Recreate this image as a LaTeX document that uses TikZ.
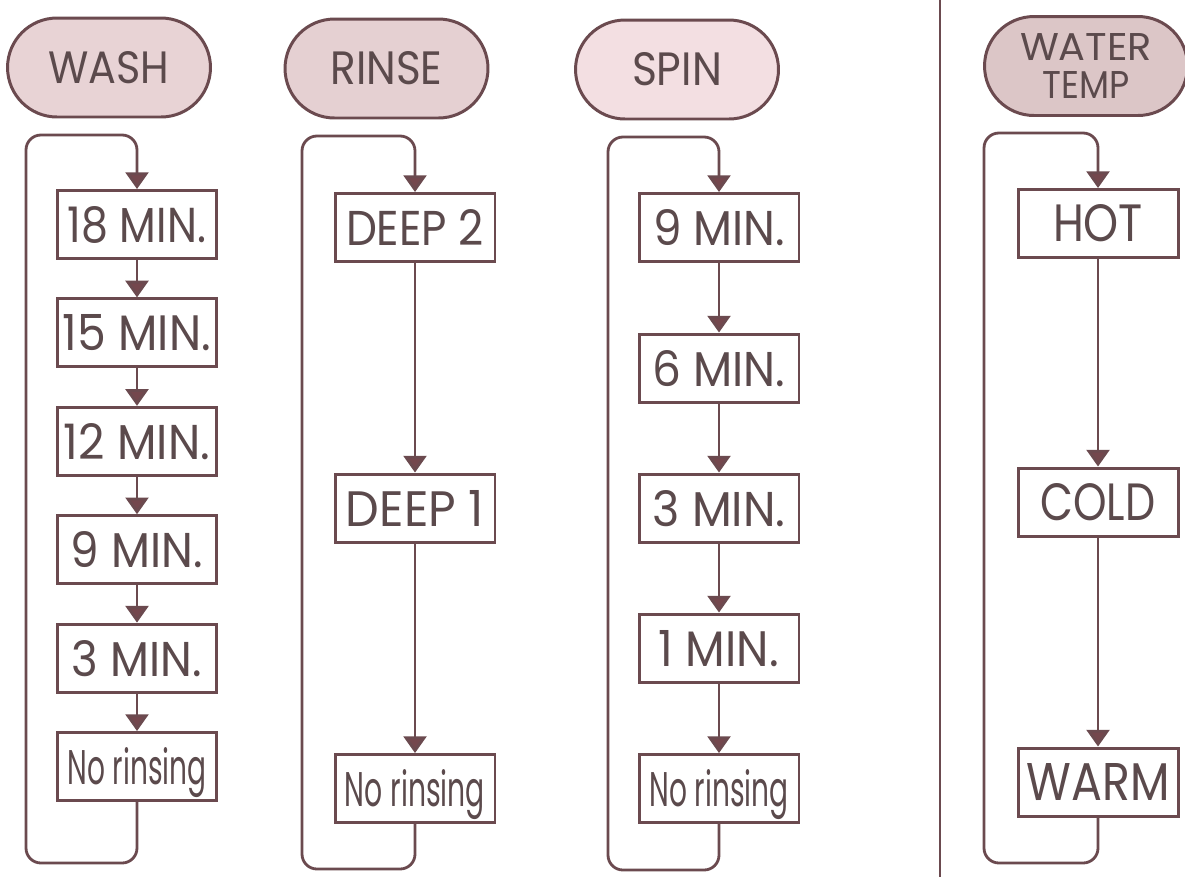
\documentclass[tikz,border=0pt]{standalone}
\usepackage{fontspec}
\setmainfont{Poppins}
\usepackage{graphicx}
\usetikzlibrary{arrows.meta,shapes.misc}
\newdimen\pxu \pxu=0.02cm
\newcommand\fitt[3]{\resizebox{#1\pxu}{#2\pxu}{#3}}
\definecolor{ln}{HTML}{6B4A4F}
\definecolor{tipc}{HTML}{74474D}
\definecolor{tx}{HTML}{5B4A4C}
\definecolor{pwash}{HTML}{E8D3D5}
\definecolor{prinse}{HTML}{E5D0D2}
\definecolor{pspin}{HTML}{F3DFE2}
\definecolor{ptemp}{HTML}{DCC6C7}
\tikzset{
  stepbox/.style={draw=ln, line width=1.7pt, fill=white, rectangle,
    minimum width=3.2cm, minimum height=1.36cm, inner sep=0pt,
    text=tx, text height=36\pxu, text depth=0pt},
  pill/.style={draw=ln, line width=1.7pt, rounded rectangle,
    minimum width=4.06cm, minimum height=1.98cm, inner sep=0pt, text=tx},
  flow/.style={draw=ln, line width=1.6pt,
    -{Triangle[width=13pt,length=9.5pt,fill=tipc]}},
  loopline/.style={flow, rounded corners=8.5pt},
}
\begin{document}
\begin{tikzpicture}[x=0.02cm,y=-0.02cm]
\useasboundingbox (0,0) rectangle (1185,877);
\fill[white] (0,0) rectangle (1185,877);

% divider
\coordinate (divtop) at (940,0);
\coordinate (divbot) at (940,877);
\draw[ln, line width=1.3pt] (divtop) -- (divbot);

% headers
\node[pill, fill=pwash] (hwash) at (109,67.5) {\fitt{121}{32}{WASH}};
\node[pill, fill=prinse] (hrinse) at (386.5,68.5) {\fitt{112}{33}{RINSE}};
\node[pill, fill=pspin] (hspin) at (677,69.5) {\fitt{90}{33}{SPIN}};
\node[pill, fill=ptemp, align=center, font=\fontsize{10}{21.6}\selectfont]
  (htemp) at (1086,66) {\fitt{132}{27}{WATER}\\\fitt{87}{27}{TEMP}};

% WASH column
\node[stepbox] (w1) at (137,224.5) {\fitt{138}{36}{18 MIN.}};
\node[stepbox] (w2) at (137,332.9) {\fitt{148}{36}{15 MIN.}};
\node[stepbox] (w3) at (137,441.3) {\fitt{146}{36}{12 MIN.}};
\node[stepbox] (w4) at (137,549.7) {\fitt{132}{36}{9 MIN.}};
\node[stepbox] (w5) at (137,658.1) {\fitt{130}{36}{3 MIN.}};
\node[stepbox] (w6) at (137,766.5) {\fitt{139}{37}{No rinsing}};
\draw[flow] (w1) -- (w2);
\draw[flow] (w2) -- (w3);
\draw[flow] (w3) -- (w4);
\draw[flow] (w4) -- (w5);
\draw[flow] (w5) -- (w6);
\coordinate (wbl) at (26,863);
\coordinate (wtl) at (26,135);
\draw[loopline] (w6.south) |- (wbl) -- (wtl) -| (w1.north);

% RINSE column
\node[stepbox] (r1) at (415,227.5) {\fitt{138}{36}{DEEP 2}};
\node[stepbox] (r2) at (415,508) {\fitt{138}{36}{DEEP 1}};
\node[stepbox] (r3) at (415,788.5) {\fitt{140}{37}{No rinsing}};
\draw[flow] (r1) -- (r2);
\draw[flow] (r2) -- (r3);
\coordinate (rbl) at (302,869);
\coordinate (rtl) at (302,136);
\draw[loopline] (r3.south) |- (rbl) -- (rtl) -| (r1.north);

% SPIN column
\node[stepbox] (s1) at (719,227.5) {\fitt{132}{36}{9 MIN.}};
\node[stepbox] (s2) at (719,368) {\fitt{133}{36}{6 MIN.}};
\node[stepbox] (s3) at (719,508) {\fitt{133}{36}{3 MIN.}};
\node[stepbox] (s4) at (719,648) {\fitt{120}{36}{1 MIN.}};
\node[stepbox] (s5) at (719,788.5) {\fitt{139}{37}{No rinsing}};
\draw[flow] (s1) -- (s2);
\draw[flow] (s2) -- (s3);
\draw[flow] (s3) -- (s4);
\draw[flow] (s4) -- (s5);
\coordinate (sbl) at (608,870);
\coordinate (stl) at (608,137);
\draw[loopline] (s5.south) |- (sbl) -- (stl) -| (s1.north);

% WATER TEMP column
\node[stepbox] (t1) at (1098,223.5) {\fitt{90}{37}{HOT}};
\node[stepbox] (t2) at (1098,502) {\fitt{115}{37}{COLD}};
\node[stepbox] (t3) at (1098,782) {\fitt{143}{37}{WARM}};
\draw[flow] (t1) -- (t2);
\draw[flow] (t2) -- (t3);
\coordinate (tbl) at (984,863);
\coordinate (ttl) at (984,133);
\draw[loopline] (t3.south) |- (tbl) -- (ttl) -| (t1.north);
\end{tikzpicture}
\end{document}
